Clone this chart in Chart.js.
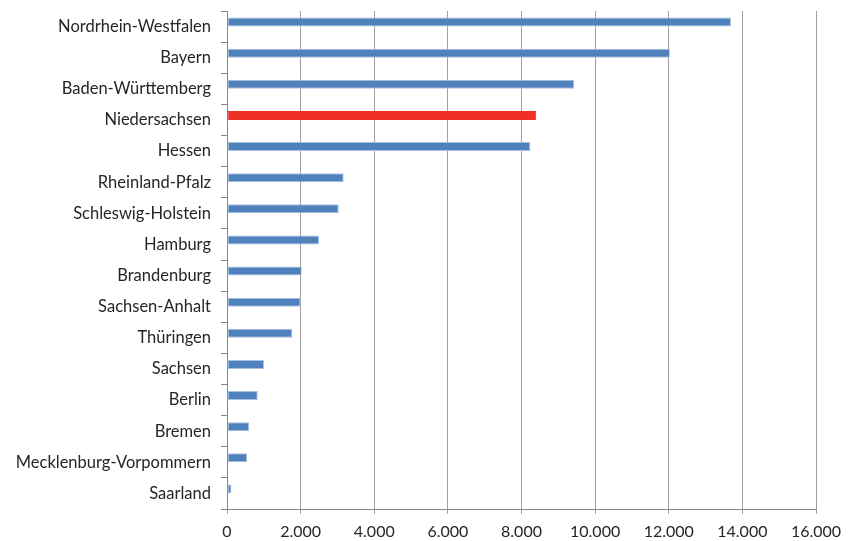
<!DOCTYPE html>
<html>
<head>
<meta charset="utf-8">
<script src="https://cdn.jsdelivr.net/npm/chart.js@4"></script>
<style>
  html, body { margin: 0; padding: 0; background: #fff; }
  #wrap { width: 855px; height: 541px; }
</style>
</head>
<body>
<div id="wrap"><canvas id="laenderChart" width="855" height="541"></canvas></div>
<script>
// Bundesländer, von oben nach unten
const laender = [
    'Nordrhein-Westfalen', 'Bayern', 'Baden-Württemberg', 'Niedersachsen', 'Hessen',
    'Rheinland-Pfalz', 'Schleswig-Holstein', 'Hamburg', 'Brandenburg', 'Sachsen-Anhalt',
    'Thüringen', 'Sachsen', 'Berlin', 'Bremen', 'Mecklenburg-Vorpommern', 'Saarland'
];
const werte = [13690, 12030, 9430, 8400, 8240, 3170, 3035, 2500, 2030, 2000, 1775, 1005, 835, 605, 545, 120];
// zweite (leere) Reihe wie im Original, schiebt die Balken etwas nach oben
const leer = laender.map(() => null);
const xTicks = [0, 2000, 4000, 6000, 8000, 10000, 12000, 14000, 16000];
const hervorgehoben = 'Niedersachsen';

const blau = '#4f81bd';
const rot = '#ee3124';

function formatDe(v) {
    return String(v).replace(/\B(?=(\d{3})+(?!\d))/g, '.');
}

const ctx = document.getElementById('laenderChart').getContext('2d');

new Chart(ctx, {
    type: 'bar',
    data: {
        labels: laender,
        datasets: [{
            data: werte,
            backgroundColor: laender.map(l => l === hervorgehoben ? rot : blau),
            borderColor: laender.map(l => l === hervorgehoben ? rot : '#a9c1de'),
            borderWidth: 1,
            borderSkipped: false
        }, {
            data: leer
        }]
    },
    options: {
        indexAxis: 'y',
        responsive: false,
        animation: false,
        datasets: { bar: { categoryPercentage: 0.58, barPercentage: 1 } },
        layout: { padding: { top: 11, right: 39, left: 0, bottom: 0 } },
        plugins: {
            legend: { display: false },
            tooltip: { enabled: false }
        },
        scales: {
            x: {
                min: 0,
                max: 16000,
                afterBuildTicks: scale => { scale.ticks = xTicks.map(v => ({ value: v })); },
                afterFit: scale => { scale.height = 32; },
                grid: {
                    color: '#a0a0a0',
                    lineWidth: 1,
                    tickLength: 5,
                    drawTicks: true
                },
                border: { color: '#868686' },
                ticks: {
                    color: '#262626',
                    padding: 8,
                    font: { family: 'Lato', size: 16 },
                    callback: v => formatDe(v)
                }
            },
            y: {
                afterFit: scale => {
                    scale.width = 227;
                    scale.paddingTop = 0;
                    scale.paddingBottom = 0;
                },
                grid: {
                    drawOnChartArea: false,
                    color: '#868686',
                    tickLength: 6,
                    offset: true
                },
                border: { color: '#868686' },
                ticks: {
                    color: '#262626',
                    padding: 10,
                    font: { family: 'Lato', size: 16.5 }
                }
            }
        }
    }
});
</script>
</body>
</html>
